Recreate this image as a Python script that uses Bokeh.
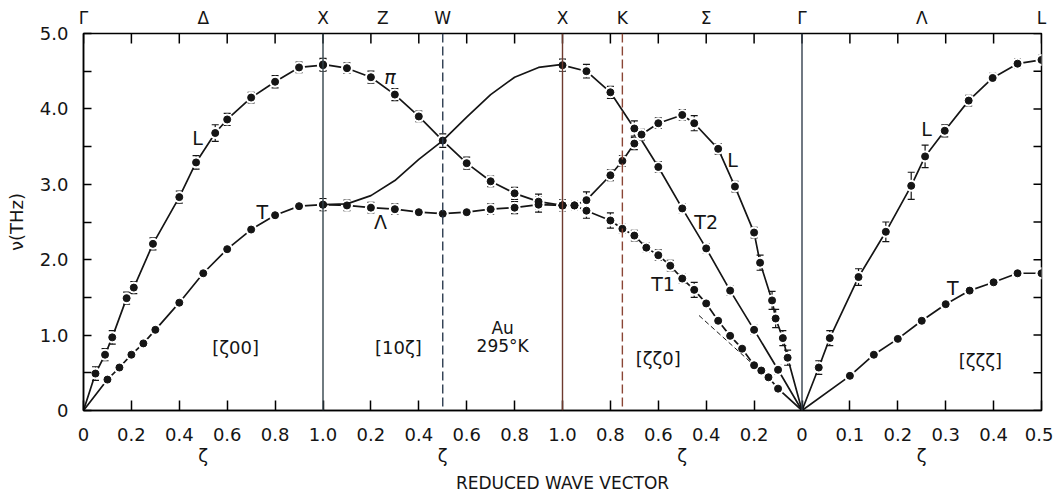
from bokeh.plotting import figure
from bokeh.models import (LinearAxis, FixedTicker, Range1d, ColumnDataSource,
                          Whisker, TeeHead, Span, Label)
from bokeh.embed import file_html
from bokeh.resources import INLINE

FONT = "DejaVu Sans"

# ---------------- data (zeta, frequency THz, error) ----------------
# [zeta 0 0]  Gamma -> X
gx_L_z = [0.05, 0.09, 0.12, 0.18, 0.21, 0.29, 0.40, 0.47, 0.55, 0.60, 0.70, 0.80, 0.90, 1.00]
gx_L_v = [0.49, 0.74, 0.97, 1.49, 1.63, 2.21, 2.83, 3.29, 3.68, 3.86, 4.15, 4.36, 4.55, 4.58]
gx_L_e = [0.09, 0.08, 0.09, 0.08, 0.08, 0.08, 0.08, 0.09, 0.11, 0.08, 0.07, 0.08, 0.07, 0.08]
gx_T_z = [0.10, 0.15, 0.20, 0.25, 0.30, 0.40, 0.50, 0.60, 0.70, 0.80, 0.90, 1.00]
gx_T_v = [0.41, 0.57, 0.74, 0.89, 1.07, 1.43, 1.82, 2.14, 2.40, 2.59, 2.71, 2.73]

# [1 0 zeta]  X -> W -> X
xw_pi_z = [0.0, 0.1, 0.2, 0.3, 0.4, 0.5, 0.6, 0.7, 0.8, 0.9, 1.0]
xw_pi_v = [4.59, 4.54, 4.42, 4.19, 3.90, 3.58, 3.28, 3.04, 2.88, 2.77, 2.72]
xw_pi_e = [0.08, 0.07, 0.08, 0.08, 0.07, 0.09, 0.08, 0.07, 0.08, 0.10, 0.07]
xw_La_z = [0.0, 0.1, 0.2, 0.3, 0.4, 0.5, 0.6, 0.7, 0.8, 0.9, 1.0]
xw_La_v = [2.73, 2.72, 2.69, 2.67, 2.63, 2.61, 2.63, 2.67, 2.69, 2.73, 2.72]
xw_La_e = [0.08, 0.07, 0.07, 0.07, 0.00, 0.00, 0.00, 0.07, 0.08, 0.10, 0.07]
xw_curve_z = [0.0, 0.1, 0.2, 0.3, 0.4, 0.5, 0.6, 0.7, 0.8, 0.9, 1.0]
xw_curve_v = [2.73, 2.74, 2.85, 3.05, 3.33, 3.58, 3.89, 4.19, 4.42, 4.55, 4.59]

# [zeta zeta 0]  X -> K -> Gamma
kk_T2_z = [1.0, 0.9, 0.8, 0.7, 0.6, 0.5, 0.4, 0.3, 0.2, 0.1]
kk_T2_v = [4.58, 4.50, 4.22, 3.74, 3.23, 2.68, 2.15, 1.59, 1.07, 0.54]
kk_T2_e = [0.08, 0.09, 0.08, 0.10, 0.07, 0.06, 0.06, 0.06, 0.06, 0.06]
kk_L_z = [1.0, 0.95, 0.9, 0.8, 0.75, 0.7, 0.67, 0.6, 0.5, 0.45, 0.35, 0.28, 0.2,
          0.175, 0.125, 0.11, 0.08, 0.06]
kk_L_v = [2.72, 2.72, 2.79, 3.12, 3.31, 3.54, 3.66, 3.81, 3.92, 3.81, 3.47, 2.97, 2.36,
          1.96, 1.46, 1.22, 0.96, 0.70]
kk_L_e = [0.06, 0.06, 0.11, 0.07, 0.07, 0.08, 0.07, 0.07, 0.07, 0.10, 0.07, 0.07, 0.07,
          0.10, 0.12, 0.12, 0.10, 0.10]
kk_T1_z = [1.0, 0.95, 0.9, 0.8, 0.75, 0.7, 0.65, 0.6, 0.55, 0.5, 0.45, 0.4, 0.35, 0.3,
           0.25, 0.2, 0.17, 0.14, 0.1]
kk_T1_v = [2.72, 2.72, 2.65, 2.52, 2.41, 2.32, 2.16, 2.06, 1.92, 1.75, 1.60, 1.42, 1.19,
           0.99, 0.82, 0.60, 0.53, 0.44, 0.29]
kk_T1_e = [0.06, 0.06, 0.10, 0.10, 0.06, 0.07, 0.06, 0.07, 0.07, 0.06, 0.10, 0.00, 0.00,
           0.00, 0.00, 0.00, 0.00, 0.00, 0.00]
kk_slope_z = [0.43, 0.19]
kk_slope_v = [1.26, 0.57]

# [zeta zeta zeta]  Gamma -> L
gl_L_z = [0.035, 0.058, 0.118, 0.175, 0.228, 0.257, 0.298, 0.348, 0.398, 0.45, 0.5]
gl_L_v = [0.57, 0.96, 1.77, 2.37, 2.98, 3.37, 3.71, 4.11, 4.41, 4.60, 4.65]
gl_L_e = [0.09, 0.10, 0.11, 0.13, 0.18, 0.15, 0.08, 0.07, 0.06, 0.06, 0.06]
gl_T_z = [0.10, 0.15, 0.20, 0.25, 0.30, 0.35, 0.40, 0.45, 0.50]
gl_T_v = [0.46, 0.74, 0.95, 1.19, 1.41, 1.59, 1.70, 1.82, 1.82]

# axis labels
bottom_labels = ["0", "0.2", "0.4", "0.6", "0.8", "1.0", "0.2", "0.4", "0.6", "0.8", "1.0",
                 "0.8", "0.6", "0.4", "0.2", "0", "0.1", "0.2", "0.3", "0.4", "0.5"]
top_points = ["Γ", "Δ", "X", "Z", "W", "X", "K", "Σ", "Γ", "Λ", "L"]
top_points_pos = [0, 0.5, 1, 1.25, 1.5, 2, 2.25, 2.6, 3, 3.5, 4]


# ---------------- path coordinate transforms ----------------
def p_gx(z):
    return list(z)


def p_xw(z):
    return [1 + v for v in z]


def p_kk(z):
    return [3 - v for v in z]


def p_gl(z):
    return [3 + 2 * v for v in z]


FW, FH = 958, 377
XMAX, YMAX = 4.0, 5.0
p = figure(frame_width=FW, frame_height=FH, x_range=Range1d(0, XMAX), y_range=Range1d(0, YMAX),
           output_backend="svg", toolbar_location=None,
           x_axis_location=None, y_axis_location=None,
           min_border_left=83, min_border_right=12, min_border_top=33, min_border_bottom=70)
p.grid.visible = False
p.outline_line_color = "black"
p.outline_line_width = 1.5
p.background_fill_color = "white"
p.border_fill_color = "white"

INK = "#151515"

# ---------------- axes ----------------
xt = [round(i * 0.2, 1) for i in range(21)]
yt = [round(i * 0.5, 1) for i in range(11)]


def style_axis(ax, tin):
    ax.major_tick_in = tin
    ax.major_tick_out = 0
    ax.minor_tick_line_color = None
    ax.major_tick_line_width = 1.5
    ax.axis_line_width = 1.5
    ax.axis_line_color = "black"
    ax.major_tick_line_color = "black"
    ax.major_label_text_font = FONT
    ax.major_label_text_color = INK


bottom = LinearAxis(ticker=FixedTicker(ticks=xt),
                    major_label_overrides={t: l for t, l in zip(xt, bottom_labels)})
style_axis(bottom, 10)
bottom.major_label_text_font_size = "18px"
bottom.major_label_standoff = 17
p.add_layout(bottom, "below")

zeta_ax = LinearAxis(ticker=FixedTicker(ticks=[0.5, 1.5, 2.5, 3.5]),
                     major_label_overrides={0.5: "ζ", 1.5: "ζ", 2.5: "ζ", 3.5: "ζ"},
                     axis_label="REDUCED WAVE VECTOR")
style_axis(zeta_ax, 0)
zeta_ax.axis_line_color = None
zeta_ax.major_tick_line_color = None
zeta_ax.major_label_text_font_size = "18px"
zeta_ax.major_label_standoff = 1
zeta_ax.axis_label_text_font = FONT
zeta_ax.axis_label_text_font_style = "normal"
zeta_ax.axis_label_text_font_size = "17px"
zeta_ax.axis_label_text_color = INK
zeta_ax.axis_label_standoff = 4
p.add_layout(zeta_ax, "below")

top_lab = LinearAxis(ticker=FixedTicker(ticks=top_points_pos),
                     major_label_overrides={t: l for t, l in zip(top_points_pos, top_points)})
style_axis(top_lab, 0)
top_lab.axis_line_color = None
top_lab.major_tick_line_color = None
top_lab.major_label_text_font_size = "17px"
top_lab.major_label_standoff = 6
p.add_layout(top_lab, "above")

left = LinearAxis(ticker=FixedTicker(ticks=yt),
                  major_label_overrides={t: ("0" if t == 0 else (f"{t:.1f}" if t == int(t) else ""))
                                         for t in yt},
                  axis_label="ν(THz)")
style_axis(left, 8)
left.major_label_text_font_size = "18px"
left.major_label_standoff = 15
left.axis_label_text_font = FONT
left.axis_label_text_font_style = "normal"
left.axis_label_text_font_size = "18px"
left.axis_label_text_color = INK
left.axis_label_standoff = 10
p.add_layout(left, "left")

# inward ticks on the top and right edges of the frame (10 px and 8 px long)
top_len = 10 * YMAX / FH
right_len = 8 * XMAX / FW
p.segment(x0=xt, y0=[YMAX] * len(xt), x1=xt, y1=[YMAX - top_len] * len(xt),
          line_color="black", line_width=1.5)
p.segment(x0=[XMAX] * len(yt), y0=yt, x1=[XMAX - right_len] * len(yt), y1=yt,
          line_color="black", line_width=1.5)

# ---------------- branches ----------------
branches = [
    (p_gx([0] + gx_L_z), [0] + gx_L_v, p_gx(gx_L_z), gx_L_v, gx_L_e),
    (p_gx([0] + gx_T_z), [0] + gx_T_v, p_gx(gx_T_z), gx_T_v, None),
    (p_xw(xw_pi_z), xw_pi_v, p_xw(xw_pi_z), xw_pi_v, xw_pi_e),
    (p_xw(xw_La_z), xw_La_v, p_xw(xw_La_z), xw_La_v, xw_La_e),
    (p_kk(kk_T2_z + [0]), kk_T2_v + [0], p_kk(kk_T2_z), kk_T2_v, kk_T2_e),
    (p_kk(kk_L_z + [0]), kk_L_v + [0], p_kk(kk_L_z), kk_L_v, kk_L_e),
    (p_kk(kk_T1_z + [0]), kk_T1_v + [0], p_kk(kk_T1_z), kk_T1_v, kk_T1_e),
    (p_gl([0] + gl_L_z), [0] + gl_L_v, p_gl(gl_L_z), gl_L_v, gl_L_e),
    (p_gl([0] + gl_T_z), [0] + gl_T_v, p_gl(gl_T_z), gl_T_v, None),
]

for lx, ly, mx, my, me in branches:
    p.line(lx, ly, line_color=INK, line_width=1.7)
for lx, ly, mx, my, me in branches:
    p.scatter(mx, my, size=12, fill_color="white", line_color=None)

# smooth curve in [10 zeta] and elastic slope line
p.line(p_xw(xw_curve_z), xw_curve_v, line_color=INK, line_width=1.7)
p.line(p_kk(kk_slope_z), kk_slope_v, line_color=INK, line_width=1, line_dash="5 3")

# ---------------- symmetry lines ----------------
p.add_layout(Span(location=1.0, dimension="height", line_color="#33434a", line_width=1.4))
p.add_layout(Span(location=1.5, dimension="height", line_color="#2c3b4f", line_width=1.4,
                  line_dash="9 4"))
p.add_layout(Span(location=2.0, dimension="height", line_color="#6e3a2e", line_width=1.4))
p.add_layout(Span(location=2.25, dimension="height", line_color="#8a4535", line_width=1.4,
                  line_dash="9 4"))
p.add_layout(Span(location=3.0, dimension="height", line_color="#34404e", line_width=1.4))

for lx, ly, mx, my, me in branches:
    if me is not None:
        xs = [x for x, e in zip(mx, me) if e > 0]
        up = [y + e for y, e in zip(my, me) if e > 0]
        lo = [y - e for y, e in zip(my, me) if e > 0]
        src = ColumnDataSource(dict(x=xs, upper=up, lower=lo))
        w = Whisker(source=src, base="x", upper="upper", lower="lower", dimension="height",
                    line_color=INK, line_width=1.2,
                    upper_head=TeeHead(size=7, line_color=INK, line_width=1.2),
                    lower_head=TeeHead(size=7, line_color=INK, line_width=1.2))
        p.add_layout(w)
    p.scatter(mx, my, size=7, fill_color=INK, line_color=INK)


# ---------------- in-plot labels ----------------
def lab(x, y, t, size="19px", style="normal"):
    p.add_layout(Label(x=x, y=y, text=t, text_font=FONT, text_font_size=size,
                       text_font_style=style, text_color=INK,
                       text_align="center", text_baseline="middle"))


lab(0.476, 3.62, "L")
lab(0.747, 2.63, "T")
lab(1.28, 4.42, "π", style="italic")
lab(1.24, 2.50, "Λ")
lab(2.71, 3.32, "L")
lab(2.60, 2.50, "T2")
lab(2.42, 1.68, "T1")
lab(3.52, 3.74, "L")
lab(3.63, 1.62, "T")
lab(0.635, 0.84, "[ζ00]", size="18px")
lab(1.315, 0.84, "[10ζ]", size="18px")
lab(1.75, 1.09, "Au", size="17px")
lab(1.75, 0.85, "295°K", size="17px")
lab(2.40, 0.69, "[ζζ0]", size="18px")
lab(3.745, 0.66, "[ζζζ]", size="18px")

open("out.html", "w").write(file_html(p, INLINE))
